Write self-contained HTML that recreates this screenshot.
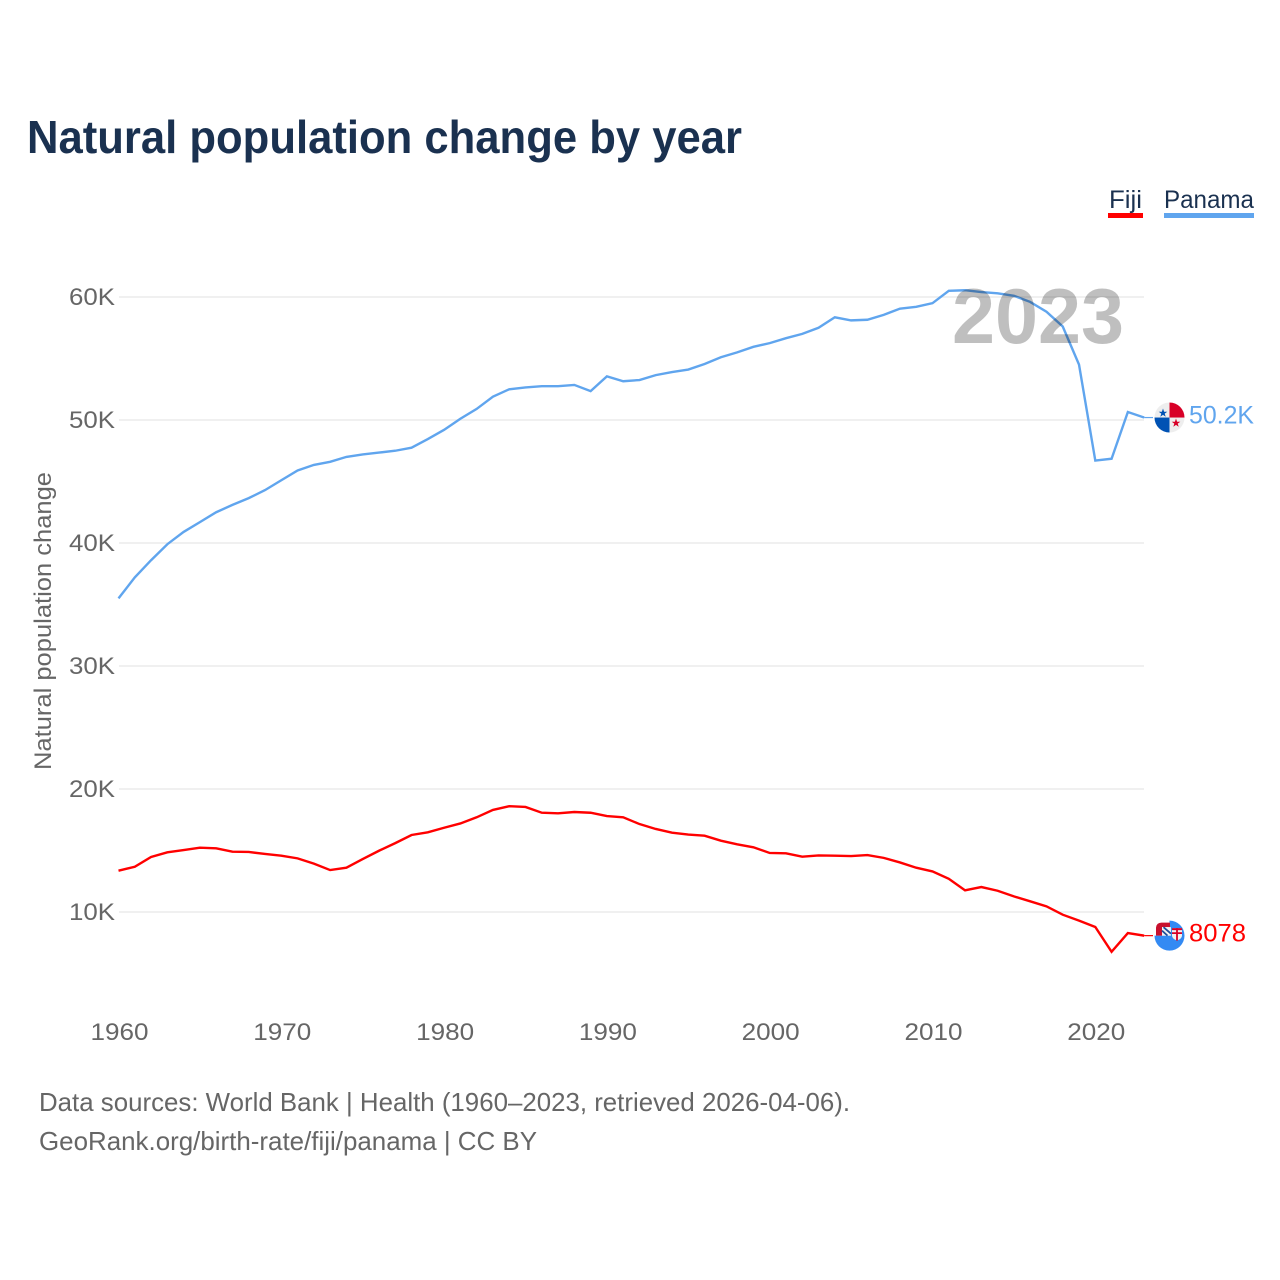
<!DOCTYPE html>
<html>
<head>
<meta charset="utf-8">
<title>Natural population change by year</title>
<style>
html,body{margin:0;padding:0;background:#fff;width:1280px;height:1280px;overflow:hidden}
svg{display:block;font-family:"Liberation Sans",sans-serif}
</style>
</head>
<body>
<svg id="chart" width="1280" height="1280" viewBox="0 0 1280 1280" xmlns="http://www.w3.org/2000/svg">
  <text x="27" y="153" font-size="46" font-weight="700" fill="#1a3150" textLength="715" lengthAdjust="spacingAndGlyphs">Natural population change by year</text>

  <g>
    <g>
      <text x="1109" y="208" font-size="25" fill="#1a3150" textLength="33" lengthAdjust="spacingAndGlyphs">Fiji</text>
      <rect x="1108" y="213" width="35" height="5" fill="#ff0000"></rect>
    </g>
    <g>
      <text x="1164" y="208" font-size="25" fill="#1a3150" textLength="90" lengthAdjust="spacingAndGlyphs">Panama</text>
      <rect x="1164" y="213" width="90" height="5" fill="#60a5ee"></rect>
    </g>
  </g>

  <g id="grid"></g>
  <g id="yticks"></g>
  <g id="xticks"></g>
  <text transform="translate(51,621) rotate(-90)" text-anchor="middle" font-size="24" fill="#666666" textLength="298" lengthAdjust="spacingAndGlyphs">Natural population change</text>

  <g id="series"></g>

  <text x="952" y="343" font-size="78" font-weight="700" fill="#000000" fill-opacity="0.25" textLength="172" lengthAdjust="spacingAndGlyphs">2023</text>

  <defs>
    <clipPath id="flag-clip"><circle cx="0" cy="0" r="15"></circle></clipPath>
  </defs>

  <g id="flag-panama">
    <g clip-path="url(#flag-clip)">
      <rect x="-15" y="-15" width="30" height="30" fill="#eeeeee"></rect>
      <rect x="0" y="-15" width="15" height="15" fill="#d80027"></rect>
      <rect x="-15" y="0" width="15" height="15" fill="#0052b4"></rect>
      <polygon points="-6.5,-9 -5.4,-5.8 -2.2,-5.8 -4.8,-3.9 -3.8,-0.8 -6.5,-2.7 -9.2,-0.8 -8.2,-3.9 -10.8,-5.8 -7.6,-5.8" fill="#0052b4"></polygon>
      <polygon points="6.5,1 7.6,4.2 10.8,4.2 8.2,6.1 9.2,9.2 6.5,7.3 3.8,9.2 4.8,6.1 2.2,4.2 5.4,4.2" fill="#d80027"></polygon>
    </g>
  </g>

  <g id="flag-fiji">
    <path d="M -15 0 A 15 15 0 1 0 15 0 A 15 15 0 0 0 0 -15 L 0 0 Z" fill="#338af3"></path>
    <path d="M -13.5 0 L -13.5 -8 Q -13 -13 -8 -13 L 0.5 -13 L 0.5 -8.5 L -7.5 -8.5 L -7.5 0 Z" fill="#c8102e"></path>
    <rect x="-7.5" y="-8.5" width="9" height="8.5" fill="#f2f2f2"></rect>
    <path d="M -6 -8.5 L 1.5 -2 M -7.5 -5 L -2 0" stroke="#1f4e9c" stroke-width="1.8" fill="none"></path>
    <path d="M 2.5 -7.5 L 12.5 -7.5 L 12.5 0 Q 12.5 3 7.5 5 Q 2.5 3 2.5 0 Z" fill="#f2f2f2"></path>
    <path d="M 7.5 -7.5 L 7.5 5 M 2.5 -2.5 L 12.5 -2.5" stroke="#d80027" stroke-width="1.8" fill="none"></path>
    <rect x="2.5" y="-7.5" width="10" height="2" fill="#d80027"></rect>
  </g>

  <g id="endlabels"></g>

  <text x="39" y="1111" font-size="26" fill="#666666" textLength="811" lengthAdjust="spacingAndGlyphs">Data sources: World Bank | Health (1960–2023, retrieved 2026-04-06).</text>
  <text x="39" y="1150" font-size="26" fill="#666666" textLength="498" lengthAdjust="spacingAndGlyphs">GeoRank.org/birth-rate/fiji/panama | CC BY</text>
</svg>

<script>
const years = [1960,1961,1962,1963,1964,1965,1966,1967,1968,1969,1970,1971,1972,1973,1974,1975,1976,1977,1978,1979,1980,1981,1982,1983,1984,1985,1986,1987,1988,1989,1990,1991,1992,1993,1994,1995,1996,1997,1998,1999,2000,2001,2002,2003,2004,2005,2006,2007,2008,2009,2010,2011,2012,2013,2014,2015,2016,2017,2018,2019,2020,2021,2022,2023];
const panamaValues = [35500,37200,38600,39900,40900,41700,42500,43100,43650,44300,45100,45900,46350,46600,47000,47200,47350,47500,47750,48450,49200,50100,50900,51900,52500,52650,52750,52750,52850,52350,53550,53150,53250,53650,53900,54100,54550,55100,55500,55950,56250,56650,57000,57500,58350,58100,58150,58550,59050,59200,59500,60500,60550,60400,60300,60100,59600,58800,57600,54500,46700,46850,50650,50200];
const fijiValues = [13360,13680,14470,14850,15040,15230,15180,14900,14880,14720,14580,14360,13930,13410,13600,14300,14980,15600,16260,16480,16850,17200,17700,18300,18600,18540,18070,18020,18130,18070,17800,17700,17150,16750,16450,16300,16200,15800,15500,15260,14800,14770,14500,14600,14580,14550,14630,14400,14030,13600,13300,12700,11760,12030,11730,11270,10870,10460,9780,9300,8780,6770,8290,8078];
const yTickValues = [10000,20000,30000,40000,50000,60000];
const yTickLabels = ['10K','20K','30K','40K','50K','60K'];
const xTickValues = [1960,1970,1980,1990,2000,2010,2020];
const xTickLabels = ['1960','1970','1980','1990','2000','2010','2020'];
const fijiEndLabel = '8078';
const panamaEndLabel = '50.2K';

const NS = 'http://www.w3.org/2000/svg';
const xScale = function (year) { return 118.5 + (year - 1960) * 16.28; };
const yScale = function (value) { return 912 - (value - 10000) * 0.0123; };
const plotRight = 1144;
const flagX = 1169.5;

function make(tag, parent) {
  const el = document.createElementNS(NS, tag);
  parent.appendChild(el);
  return el;
}

const grid = document.getElementById('grid');
const yticks = document.getElementById('yticks');
yTickValues.forEach(function (v, i) {
  const ln = make('line', grid);
  
  
  ln.setAttribute('x1', 119);
  ln.setAttribute('x2', plotRight);
  ln.setAttribute('y1', yScale(v));
  ln.setAttribute('y2', yScale(v));
  ln.setAttribute('stroke', '#ececec');
  ln.setAttribute('stroke-width', '1.5');
  const t = make('text', yticks);
  
  
  t.setAttribute('x', 115);
  t.setAttribute('y', yScale(v) + 8);
  t.setAttribute('text-anchor', 'end');
  t.setAttribute('font-size', '24');
  t.setAttribute('fill', '#666666');
  t.setAttribute('textLength', '46');
  t.setAttribute('lengthAdjust', 'spacingAndGlyphs');
  t.textContent = yTickLabels[i];
});

const xticks = document.getElementById('xticks');
xTickValues.forEach(function (v, i) {
  const t = make('text', xticks);
  
  
  t.setAttribute('x', xScale(v) + 1);
  t.setAttribute('y', 1040);
  t.setAttribute('text-anchor', 'middle');
  t.setAttribute('font-size', '24');
  t.setAttribute('fill', '#666666');
  t.setAttribute('textLength', '58');
  t.setAttribute('lengthAdjust', 'spacingAndGlyphs');
  t.textContent = xTickLabels[i];
});

function linePoints(values) {
  return values.map(function (v, i) {
    return xScale(years[i]).toFixed(2) + ',' + yScale(v).toFixed(2);
  }).join(' ');
}

const series = document.getElementById('series');

const fijiLine = make('polyline', series);


fijiLine.setAttribute('points', linePoints(fijiValues));
fijiLine.setAttribute('fill', 'none');
fijiLine.setAttribute('stroke', '#ff0000');
fijiLine.setAttribute('stroke-width', '2.4');
fijiLine.setAttribute('stroke-linejoin', 'miter');

const panamaLine = make('polyline', series);


panamaLine.setAttribute('points', linePoints(panamaValues));
panamaLine.setAttribute('fill', 'none');
panamaLine.setAttribute('stroke', '#60a5ee');
panamaLine.setAttribute('stroke-width', '2.4');
panamaLine.setAttribute('stroke-linejoin', 'miter');

const fijiEndY = yScale(fijiValues[fijiValues.length - 1]);
const panamaEndY = yScale(panamaValues[panamaValues.length - 1]);

const fijiConnector = make('line', series);


fijiConnector.setAttribute('x1', xScale(2023));
fijiConnector.setAttribute('x2', 1153);
fijiConnector.setAttribute('y1', fijiEndY);
fijiConnector.setAttribute('y2', fijiEndY);
fijiConnector.setAttribute('stroke', '#ff0000');
fijiConnector.setAttribute('stroke-width', '1.2');

const panamaConnector = make('line', series);


panamaConnector.setAttribute('x1', xScale(2023));
panamaConnector.setAttribute('x2', 1153);
panamaConnector.setAttribute('y1', panamaEndY);
panamaConnector.setAttribute('y2', panamaEndY);
panamaConnector.setAttribute('stroke', '#60a5ee');
panamaConnector.setAttribute('stroke-width', '1.2');

document.getElementById('flag-fiji').setAttribute('transform', 'translate(' + flagX + ',' + fijiEndY + ')');
document.getElementById('flag-panama').setAttribute('transform', 'translate(' + flagX + ',' + panamaEndY + ')');

const endlabels = document.getElementById('endlabels');

const fijiLabel = make('text', endlabels);


fijiLabel.setAttribute('x', 1189);
fijiLabel.setAttribute('y', fijiEndY + 6);
fijiLabel.setAttribute('font-size', '25');
fijiLabel.setAttribute('fill', '#ff0000');
fijiLabel.setAttribute('textLength', '57');
fijiLabel.setAttribute('lengthAdjust', 'spacingAndGlyphs');
fijiLabel.textContent = fijiEndLabel;

const panamaLabel = make('text', endlabels);


panamaLabel.setAttribute('x', 1189);
panamaLabel.setAttribute('y', panamaEndY + 6);
panamaLabel.setAttribute('font-size', '25');
panamaLabel.setAttribute('fill', '#60a5ee');
panamaLabel.setAttribute('textLength', '65');
panamaLabel.setAttribute('lengthAdjust', 'spacingAndGlyphs');
panamaLabel.textContent = panamaEndLabel;
</script>
</body>
</html>
